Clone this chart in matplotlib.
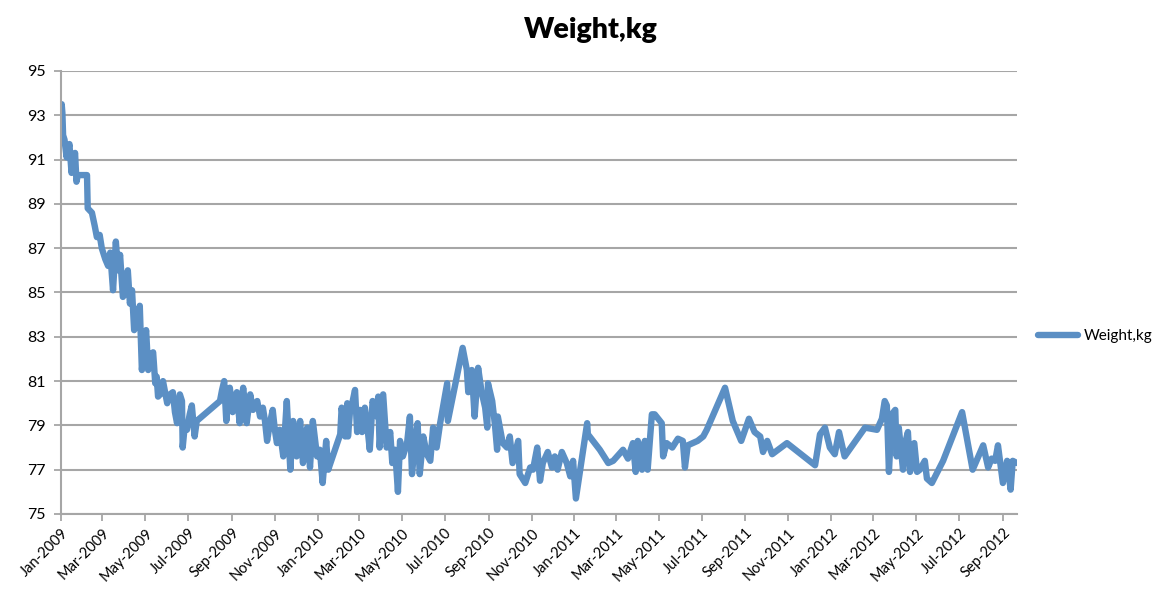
import matplotlib
matplotlib.use('Agg')
import matplotlib.pyplot as plt
import matplotlib.dates as mdates
import numpy as np
import pandas as pd

# weigh-in dates and weights
dates_2009 = [
    '2009-01-01', '2009-01-02', '2009-01-03', '2009-01-04', '2009-01-06',
    '2009-01-09', '2009-01-13', '2009-01-16', '2009-01-21', '2009-01-23',
    '2009-01-25', '2009-02-07', '2009-02-08', '2009-02-14', '2009-02-18',
    '2009-02-21', '2009-02-25', '2009-02-28', '2009-03-05', '2009-03-09',
    '2009-03-12', '2009-03-16', '2009-03-20', '2009-03-23', '2009-03-26',
    '2009-03-30', '2009-04-03', '2009-04-06', '2009-04-09', '2009-04-12',
    '2009-04-15', '2009-04-19', '2009-04-23', '2009-04-26', '2009-04-29',
    '2009-05-02', '2009-05-05', '2009-05-08', '2009-05-12', '2009-05-15',
    '2009-05-17', '2009-05-19', '2009-05-22', '2009-05-26', '2009-06-01',
    '2009-06-05', '2009-06-09', '2009-06-12', '2009-06-15', '2009-06-19',
    '2009-06-22', '2009-06-23', '2009-06-26', '2009-06-29', '2009-07-03',
    '2009-07-06', '2009-07-10', '2009-07-13', '2009-08-15', '2009-08-18',
    '2009-08-21', '2009-08-24', '2009-08-26', '2009-08-29', '2009-09-02',
    '2009-09-05', '2009-09-08', '2009-09-12', '2009-09-17', '2009-09-20',
    '2009-09-22', '2009-09-27', '2009-10-01', '2009-10-07', '2009-10-11',
    '2009-10-15', '2009-10-18', '2009-10-21', '2009-10-25', '2009-10-29',
    '2009-11-01', '2009-11-04', '2009-11-08', '2009-11-13', '2009-11-18',
    '2009-11-23', '2009-11-27', '2009-11-30', '2009-12-02', '2009-12-07',
    '2009-12-11', '2009-12-14', '2009-12-17', '2009-12-21', '2009-12-25',
    '2009-12-31',
]
weights_2009 = [
    93.3, 93.5, 93.1, 92.1, 91.9, 91.1, 91.7, 90.4, 91.3, 90.0,
    90.3, 90.3, 88.8, 88.6, 88.0, 87.5, 87.6, 87.0, 86.5, 86.2,
    86.8, 85.1, 87.3, 86.0, 86.7, 84.8, 85.0, 86.0, 84.5, 85.1,
    83.3, 83.6, 84.4, 81.5, 82.5, 83.3, 81.5, 82.2, 82.3, 80.9,
    81.2, 80.3, 80.4, 81.0, 80.0, 80.4, 80.5, 79.6, 79.1, 80.4,
    80.1, 78.0, 79.0, 78.8, 79.5, 79.9, 78.5, 79.2, 80.1, 80.6,
    81.0, 79.2, 80.0, 80.7, 79.6, 80.2, 80.5, 79.1, 80.7, 79.8,
    79.1, 80.4, 79.7, 80.1, 79.4, 79.8, 79.2, 78.3, 79.1, 79.7,
    78.8, 78.2, 78.8, 77.6, 80.1, 77.0, 79.2, 78.0, 77.6, 79.2,
    77.3, 78.2, 78.9, 77.1, 79.2, 77.6,
]

dates_2010 = [
    '2010-01-04', '2010-01-08', '2010-01-13', '2010-01-16', '2010-01-18',
    '2010-02-02', '2010-02-04', '2010-02-09', '2010-02-12', '2010-02-13',
    '2010-02-16', '2010-02-19', '2010-02-23', '2010-02-26', '2010-03-02',
    '2010-03-05', '2010-03-09', '2010-03-13', '2010-03-16', '2010-03-20',
    '2010-03-26', '2010-03-28', '2010-03-30', '2010-04-04', '2010-04-09',
    '2010-04-14', '2010-04-17', '2010-04-21', '2010-04-25', '2010-04-28',
    '2010-05-02', '2010-05-08', '2010-05-12', '2010-05-15', '2010-05-19',
    '2010-05-23', '2010-05-26', '2010-05-31', '2010-06-05', '2010-06-10',
    '2010-06-14', '2010-06-19', '2010-06-24', '2010-07-04', '2010-07-05',
    '2010-07-26', '2010-08-01', '2010-08-03', '2010-08-08', '2010-08-12',
    '2010-08-17', '2010-08-22', '2010-08-27', '2010-08-30', '2010-08-31',
    '2010-09-06', '2010-09-10', '2010-09-13', '2010-09-14', '2010-09-21',
    '2010-09-27', '2010-10-01', '2010-10-05', '2010-10-13', '2010-10-15',
    '2010-10-23', '2010-10-30', '2010-11-03', '2010-11-09', '2010-11-13',
    '2010-11-17', '2010-11-24', '2010-11-30', '2010-12-04', '2010-12-08',
    '2010-12-14', '2010-12-21', '2010-12-26', '2010-12-30',
]
weights_2010 = [
    77.9, 76.4, 78.3, 77.0, 77.2, 78.6, 79.8, 78.5, 80.0, 78.5,
    79.7, 80.0, 80.6, 78.7, 79.7, 78.7, 79.8, 78.8, 77.9, 80.1,
    79.4, 80.3, 78.0, 80.4, 78.0, 78.7, 77.3, 77.9, 76.0, 78.3,
    77.6, 78.2, 79.4, 76.8, 78.2, 79.1, 76.8, 78.5, 77.7, 77.4,
    78.9, 78.0, 79.1, 80.9, 79.2, 82.5, 81.5, 80.5, 81.5, 79.4,
    81.6, 80.5, 79.8, 78.9, 80.9, 80.1, 79.0, 77.9, 79.4, 78.2,
    78.0, 78.5, 77.3, 78.3, 76.8, 76.4, 77.1, 77.0, 78.0, 76.5,
    77.3, 77.8, 77.1, 77.6, 77.0, 77.8, 77.3, 76.7, 77.4,
]

dates_2011_12 = [
    '2011-01-03', '2011-01-19', '2011-01-20', '2011-02-06', '2011-02-18',
    '2011-02-25', '2011-03-11', '2011-03-18', '2011-03-25', '2011-03-29',
    '2011-04-01', '2011-04-07', '2011-04-11', '2011-04-15', '2011-04-21',
    '2011-04-25', '2011-05-05', '2011-05-07', '2011-05-12', '2011-05-20',
    '2011-05-28', '2011-06-04', '2011-06-07', '2011-06-11', '2011-06-25',
    '2011-07-03', '2011-07-08', '2011-08-03', '2011-08-14', '2011-08-26',
    '2011-09-06', '2011-09-14', '2011-09-22', '2011-09-26', '2011-10-02',
    '2011-10-09', '2011-10-30', '2011-12-09', '2011-12-16', '2011-12-23',
    '2011-12-30', '2012-01-06', '2012-01-12', '2012-01-20', '2012-02-18',
    '2012-03-06', '2012-03-13', '2012-03-17', '2012-03-20', '2012-03-23',
    '2012-03-27', '2012-04-01', '2012-04-03', '2012-04-06', '2012-04-12',
    '2012-04-15', '2012-04-19', '2012-04-22', '2012-04-28', '2012-05-02',
    '2012-05-06', '2012-05-13', '2012-05-16', '2012-05-23', '2012-06-08',
    '2012-07-05', '2012-07-20', '2012-08-04', '2012-08-11', '2012-08-16',
    '2012-08-21', '2012-08-25', '2012-09-01', '2012-09-07', '2012-09-12',
    '2012-09-15', '2012-09-21',
]
weights_2011_12 = [
    75.7, 79.1, 78.6, 77.9, 77.3, 77.4, 77.9, 77.5, 78.2, 76.9,
    78.3, 77.0, 78.3, 77.0, 79.5, 79.5, 79.1, 77.6, 78.2, 78.0,
    78.4, 78.3, 77.1, 78.1, 78.3, 78.5, 78.8, 80.7, 79.2, 78.3,
    79.3, 78.7, 78.5, 77.8, 78.3, 77.7, 78.2, 77.2, 78.6, 78.9,
    78.0, 77.7, 78.7, 77.6, 78.9, 78.8, 79.3, 80.1, 79.9, 76.9,
    79.5, 79.7, 77.6, 78.9, 77.0, 78.2, 78.7, 76.9, 78.2, 76.9,
    77.0, 77.4, 76.6, 76.4, 77.4, 79.6, 77.0, 78.1, 77.1, 77.5,
    77.4, 78.1, 76.4, 77.4, 76.1, 77.4, 77.3,
]

y_ticks = [75, 77, 79, 81, 83, 85, 87, 89, 91, 93, 95]

line_blue = '#5B8FC4'
grid_grey = '#A6A6A6'

dates = pd.to_datetime(dates_2009 + dates_2010 + dates_2011_12)
weights = weights_2009 + weights_2010 + weights_2011_12

plt.rcParams['font.family'] = ['Lato', 'DejaVu Sans']

fig = plt.figure(figsize=(11.75, 6.03), dpi=100)
ax = fig.add_axes([0.0519, 0.1476, 0.8136, 0.7347])

ax.plot(dates, weights, color=line_blue, linewidth=4.6,
        solid_joinstyle='round', solid_capstyle='round', label='Weight,kg')

ax.set_xlim(dates[0], dates[-1])
ax.set_ylim(75, 95)
ax.set_yticks(y_ticks)
ax.yaxis.grid(True, color=grid_grey, linewidth=1.5)
ax.set_axisbelow(True)

ax.xaxis.set_major_locator(mdates.MonthLocator(bymonth=[1, 3, 5, 7, 9, 11]))
ax.xaxis.set_major_formatter(mdates.DateFormatter('%b-%Y'))
plt.setp(ax.get_xticklabels(), rotation=45, ha='right',
         rotation_mode='anchor', fontsize=10.5)
plt.setp(ax.get_yticklabels(), fontsize=11.5)

for side in ('top', 'right'):
    ax.spines[side].set_visible(False)
for side in ('left', 'bottom'):
    ax.spines[side].set_color(grid_grey)
    ax.spines[side].set_linewidth(1.5)
ax.tick_params(axis='both', colors=grid_grey, labelcolor='black',
               length=5, width=1.3)
ax.tick_params(axis='y', pad=6)

fig.suptitle('Weight,kg', x=0.503, y=0.972, fontsize=20.5, fontweight='heavy')

fig.legend(loc='center left', bbox_to_anchor=(0.872, 0.442), frameon=False,
           fontsize=11, handlelength=2.6, handletextpad=0.35)

fig.savefig('out.png', dpi=100, facecolor='white')
